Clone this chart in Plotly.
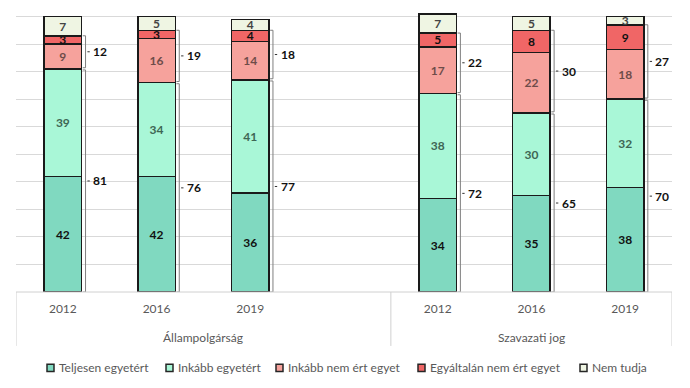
import plotly.graph_objects as go

# ---- data ----
groups = ["Állampolgárság", "Szavazati jog"]
group_slots = [["2012", "2016", "2019", ""], ["2012", "2016", "2019"]]
years = ["2012", "2016", "2019", "2012", "2016", "2019"]

teljesen = [42, 42, 36, 34, 35, 38]
inkabb = [39, 34, 41, 38, 30, 32]
inkabb_nem = [9, 16, 14, 17, 22, 18]
egyaltalan = [3, 3, 4, 5, 8, 9]
nem_tudja = [7, 5, 4, 7, 5, 3]

series_names = ["Teljesen egyetért", "Inkább egyetért", "Inkább nem ért egyet",
                "Egyáltalán nem ért egyet", "Nem tudja"]
series_values = [teljesen, inkabb, inkabb_nem, egyaltalan, nem_tudja]
series_colors = ["#80D9C0", "#A9F7D7", "#F6A29C", "#F06666", "#EFF5E3"]
label_colors = ["#111111", "#3E6654", "#6E4C49", "#111111", "#444444"]

FONT = "Lato"

# slot positions (one empty slot at end of first group)
slots = [s for g in group_slots for s in g]
xpos = [i for i, s in enumerate(slots) if s]
BW = 0.4

fig = go.Figure()
for name, vals, col, lc in zip(series_names, series_values, series_colors, label_colors):
    fig.add_trace(go.Bar(
        x=xpos, y=vals, name=name, width=BW,
        marker=dict(color=col, line=dict(color="#1a1a1a", width=1.5)),
        text=vals, textposition="inside", insidetextanchor="middle", textangle=0,
        textfont=dict(family=FONT, size=12, color=lc, weight="bold"),
        showlegend=False, hoverinfo="skip",
    ))

shapes = []
annotations = []

# brackets with sums
agree = [a + b for a, b in zip(teljesen, inkabb)]
disagree = [a + b for a, b in zip(inkabb_nem, egyaltalan)]
for x, ag, dg in zip(xpos, agree, disagree):
    edge = x + BW / 2
    bx0, bx1 = edge + 0.012, edge + 0.042
    for y0, y1, val in [(0, ag - 0.4, ag), (ag + 0.4, ag + dg, dg)]:
        shapes.append(dict(type="path", xref="x", yref="y",
                           path=f"M {bx0},{y0} L {bx1},{y0} L {bx1},{y1} L {bx0},{y1}",
                           line=dict(color="#7f7f7f", width=1)))
        mid = (y0 + y1) / 2
        shapes.append(dict(type="line", xref="x", yref="y",
                           x0=bx1 + 0.02, x1=bx1 + 0.045, y0=mid, y1=mid,
                           line=dict(color="#333333", width=1)))
        annotations.append(dict(x=bx1 + 0.06, y=mid, xref="x", yref="y",
                                text=f"<b>{val}</b>", showarrow=False,
                                xanchor="left", yanchor="middle",
                                font=dict(family=FONT, size=12, color="#111111")))

# category axis separators and group labels
n_slots = len(slots)
start = 0
bounds = [-0.5]
for g, gs in zip(groups, group_slots):
    end = start + len(gs)
    bounds.append(end - 0.5)
    annotations.append(dict(x=(start + end - 1) / 2, y=-0.163, xref="x", yref="paper",
                            text=g, showarrow=False, yanchor="middle",
                            font=dict(family=FONT, size=12, color="#595959")))
    start = end
for b in bounds:
    shapes.append(dict(type="line", xref="x", yref="paper", x0=b, x1=b,
                       y0=0, y1=-0.192, line=dict(color="#d0d0d0", width=1)))
shapes.append(dict(type="line", xref="paper", yref="paper", x0=0, x1=1, y0=0, y1=0,
                   line=dict(color="#d0d0d0", width=1)))

# manual legend
leg_x = [47, 166, 276, 418, 580]
PL, PW, PB, PH = 16, 656, 292, 276
for px, name, col in zip(leg_x, series_names, series_colors):
    x0 = (px - PL) / PW
    x1 = (px + 7 - PL) / PW
    y0 = (PB - 363) / PH
    y1 = (PB - 370) / PH
    shapes.append(dict(type="rect", xref="paper", yref="paper", x0=x0, x1=x1, y0=y0, y1=y1,
                       fillcolor=col, line=dict(color="#262626", width=1.5)))
    annotations.append(dict(x=(px + 10 - PL) / PW, y=(PB - 366.5) / PH, xref="paper", yref="paper",
                            text=name, showarrow=False, xanchor="left", yanchor="middle",
                            font=dict(family=FONT, size=12, color="#595959")))

fig.update_layout(
    barmode="stack",
    width=690, height=388,
    margin=dict(l=16, r=18, t=10.5, b=96),
    paper_bgcolor="white", plot_bgcolor="white",
    font=dict(family=FONT),
    uniformtext=dict(minsize=12, mode="show"),
    shapes=shapes, annotations=annotations,
    xaxis=dict(range=[-0.5, n_slots - 0.5], tickvals=xpos, ticktext=years,
               showgrid=False, zeroline=False, showline=False, ticks="",
               ticklabelstandoff=8,
               tickfont=dict(family=FONT, size=12, color="#595959")),
    yaxis=dict(range=[0, 102], tick0=0, dtick=10, showticklabels=False,
               showgrid=True, gridcolor="#d9d9d9", gridwidth=1, zeroline=False,
               showline=False),
)

fig.write_html("out.html", config={"displayModeBar": False},
               post_script="document.body.style.margin='0';document.body.style.overflow='hidden';")
